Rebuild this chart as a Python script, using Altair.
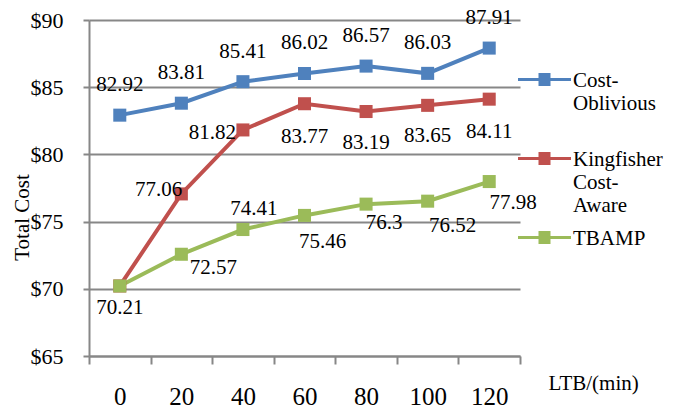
import altair as alt
import pandas as pd

# LTB values (minutes) on the x axis
lt_minutes = [0, 20, 40, 60, 80, 100, 120]

# Series names in legend order and their colours
series_names = ["Cost-Oblivious", "Kingfisher Cost-Aware", "TBAMP"]
series_colors = ["#4F81BD", "#C0504D", "#9BBB59"]

# Total cost per series
cost_oblivious = [82.92, 83.81, 85.41, 86.02, 86.57, 86.03, 87.91]
kingfisher_cost_aware = [70.21, 77.06, 81.82, 83.77, 83.19, 83.65, 84.11]
tbamp = [70.21, 72.57, 74.41, 75.46, 76.3, 76.52, 77.98]

# Value-label nudges in pixels (dx, dy, align); None = no label
label_nudges = {
    "Cost-Oblivious": [(0, -30, "center")] * 7,
    "Kingfisher Cost-Aware": [None, (1, -4, "right"), (-7, 3, "right"),
                              (0, 33, "center"), (0, 31, "center"),
                              (0, 31, "center"), (0, 33, "center")],
    "TBAMP": [(0, 22, "center"), (32, 14, "center"), (11, -21, "center"),
              (18, 27, "center"), (18, 19, "center"), (25, 25, "center"),
              (24, 21, "center")],
}

FONT = "Liberation Serif"
GRID = "#878787"

values = {
    "Cost-Oblivious": cost_oblivious,
    "Kingfisher Cost-Aware": kingfisher_cost_aware,
    "TBAMP": tbamp,
}
rows = []
for name in series_names:
    for x, v in zip(lt_minutes, values[name]):
        rows.append({"series": name, "lt": x, "cost": v, "label": str(v)})
df = pd.DataFrame(rows)

x_enc = alt.X(
    "lt:O",
    scale=alt.Scale(type="band", paddingInner=0, paddingOuter=0),
    axis=alt.Axis(
        title="LTB/(min)", labelAngle=0, labelFont=FONT, labelFontSize=25,
        labelColor="black", labelPadding=20, tickBand="extent", tickSize=8,
        tickColor=GRID, tickWidth=2, domainColor=GRID, domainWidth=2,
        grid=False, titleFont=FONT, titleFontSize=21, titleFontWeight="normal",
        titleColor="black", titleX=459, titleY=27, titleAlign="left",
        titleBaseline="middle",
    ),
)
y_enc = alt.Y(
    "cost:Q",
    scale=alt.Scale(domain=[65, 90], zero=False, nice=False),
    axis=alt.Axis(
        values=[65, 70, 75, 80, 85, 90], labelExpr="'$' + datum.value",
        labelFont=FONT, labelFontSize=22, labelColor="black", labelPadding=20,
        tickSize=6, tickColor=GRID, tickWidth=2, domainColor=GRID,
        domainWidth=2, grid=True, gridColor=GRID, gridWidth=2,
        title="Total Cost", titleFont=FONT, titleFontSize=21,
        titleFontWeight="normal", titleColor="black", titleX=-67, titleY=197,
        titleAlign="center", titleBaseline="middle", titleAngle=270,
    ),
)
color_scale = alt.Scale(domain=series_names, range=series_colors)

# Legend symbol (5 px per path unit): a line with a solid square in the
# middle, drawn level with the first line of its label
legend_symbol = (
    "M-5.3,2H5.3"
    "M-1.2,1H1.2M-1.2,1.5H1.2M-1.2,2H1.2M-1.2,2.5H1.2M-1.2,3H1.2"
)
legend = alt.Legend(
    title=None, orient="none", legendX=445, legendY=39, padding=0,
    symbolType=legend_symbol, symbolSize=100, symbolStrokeWidth=3,
    labelFont=FONT, labelFontSize=21, labelColor="black", labelOffset=18,
    labelBaseline="top", labelLimit=0, gridAlign="all", rowPadding=1,
    labelExpr=(
        "datum.label == 'Cost-Oblivious' ? ['Cost-', 'Oblivious', ''] : "
        "datum.label == 'Kingfisher Cost-Aware' ? ['Kingfisher', 'Cost-', 'Aware'] : "
        "[datum.label, '', '']"
    ),
)

base = alt.Chart(df)
lines = base.mark_line(strokeWidth=4).encode(
    x=x_enc, y=y_enc,
    color=alt.Color("series:N", scale=color_scale, legend=legend,
                    sort=series_names),
)
points = base.mark_point(shape="square", filled=True, size=170, opacity=1).encode(
    x="lt:O", y="cost:Q",
    color=alt.Color("series:N", scale=color_scale, legend=None),
)

label_layers = []
for name in series_names:
    for x, nudge in zip(lt_minutes, label_nudges[name]):
        if nudge is None:
            continue
        dx, dy, align = nudge
        label_layers.append(
            base.transform_filter(
                (alt.datum.series == name) & (alt.datum.lt == x)
            ).mark_text(
                dx=dx, dy=dy, align=align, baseline="middle", font=FONT,
                fontSize=21, color="black",
            ).encode(x="lt:O", y="cost:Q", text="label:N")
        )

chart = alt.layer(lines, points, *label_layers).properties(
    width=431, height=336,
    autosize=alt.AutoSizeParams(type="none"),
    padding={"left": 89, "top": 20, "right": 164, "bottom": 49},
    background="white",
).configure_view(stroke=None)

chart.save("out.html", embed_options={"renderer": "svg", "actions": False})
